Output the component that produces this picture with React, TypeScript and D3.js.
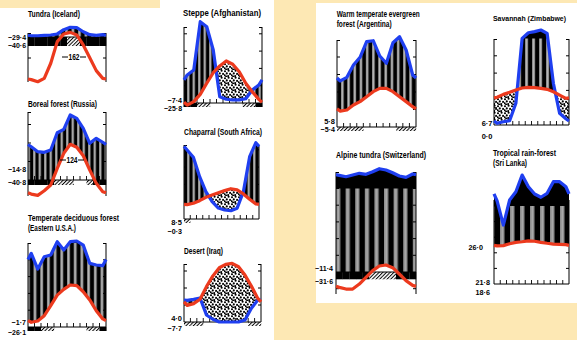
import React from "react";
import * as d3 from "d3";

// monthly mean temperature (°C) and precipitation (mm)
const tundraTemp = [-20.3, -21.3, -19.7, -12.5, -2.2, 1.4, 2.2, 1.0, -3.8, -9.9, -16.0, -19.7];
const tundraPrecip = [1.2, 1.2, 1.6, 1.9, 2.9, 7.0, 9.2, 8.9, 5.0, 2.2, 1.6, 2.2];
const tundraFrost = [2, 2, 2, 2, 2, 2, 1, 1, 2, 2, 2, 2];

const borealTemp = [-7.6, -8.3, -5.8, -2.7, 6.3, 14.4, 19.3, 17.7, 13.1, 5.4, -1.8, -6.3];
const borealPrecip = [36, 30.6, 29.9, 32.4, 51.1, 54.8, 70.3, 66.7, 55.9, 39.7, 45.1, 40.8];
const borealFrost = [2, 2, 2, 2, 1, 1, 1, 0, 0, 1, 2, 2];

const temperateTemp = [2.8, 3.6, 6.7, 12.7, 19.0, 22.4, 25.0, 24.6, 21.0, 16.1, 9.7, 4.8];
const temperatePrecip = [87.7, 69.0, 83.7, 85.7, 115.5, 91.7, 115.5, 123.8, 97.6, 75.8, 73.8, 73.0];
const temperateFrost = [2, 2, 1, 1, 0, 0, 0, 0, 0, 1, 1, 2];

const steppeTemp = [-1.2, 0.8, 5.0, 11.4, 17.5, 21.4, 24.3, 22.4, 18.1, 11.4, 6.5, 2.1];
const steppePrecip = [32.4, 38.2, 94.0, 88.2, 61.3, 7.3, 4.3, 3.5, 3.5, 5.0, 15.0, 20.8];
const steppeFrost = [2, 2, 1, 1, 0, 0, 0, 0, 0, 1, 1, 2];

const chaparralTemp = [8.3, 9.1, 10.6, 12.5, 13.9, 15.2, 16.4, 17.5, 16.8, 14.5, 11.4, 8.7];
const chaparralPrecip = [79.8, 71.3, 48.9, 31.6, 20.0, 12.7, 10.4, 9.6, 12.4, 31.6, 72.0, 88.2];
const chaparralFrost = [1, 0, 0, 0, 0, 0, 0, 0, 0, 0, 0, 0];

const desertTemp = [9.8, 10.8, 13.4, 20.8, 27.1, 31.9, 33.9, 34.5, 32.5, 27.6, 21.2, 13.9];
const desertPrecip = [25.5, 26.7, 28.2, 8.2, 3.2, 0, 0, 0, 0, 2.4, 16.1, 25.9];
const desertFrost = [1, 1, 1, 0, 0, 0, 0, 0, 0, 0, 1, 1];

const warmTemp = [9.1, 9.7, 12.6, 14.5, 17.3, 20.2, 22.1, 22.1, 20.2, 17.3, 14.5, 11.6];
const warmPrecip = [52.6, 56.8, 70.9, 79.7, 97.5, 98.6, 81.1, 72.8, 96.3, 132, 88.0, 59.4];
const warmFrost = [1, 1, 1, 1, 0, 0, 0, 0, 0, 1, 1, 1];

const savannahTemp = [16.0, 17.7, 18.9, 20.2, 21.4, 21.8, 21.6, 21.2, 20.6, 19.2, 17.3, 15.4];
const savannahPrecip = [2.0, 3.8, 5.0, 25.1, 102, 167, 179, 198, 160, 48.2, 13.5, 7.3];
const savannahFrost = [0, 0, 0, 0, 0, 0, 0, 0, 0, 0, 0, 0];

const alpineTemp = [-9.2, -10.2, -10.2, -7.2, -3.2, 0.8, 3.6, 4.2, 2.6, -1.2, -5.2, -8.0];
const alpinePrecip = [258, 241, 262, 282, 270, 301, 337, 322, 289, 250, 234, 274];
const alpineFrost = [2, 2, 2, 2, 2, 1, 1, 1, 1, 2, 2, 2];

const tropicalTemp = [24.4, 24.6, 25.8, 26.7, 27.1, 27.6, 27.4, 26.7, 26.1, 25.6, 25.4, 25.2];
const tropicalPrecip = [164, 75.6, 177, 283, 497, 347, 254, 212, 263, 412, 412, 347];
const tropicalFrost = [0, 0, 0, 0, 0, 0, 0, 0, 0, 0, 0, 0];

const BLUE = "#1f3ff0";
const RED = "#ec3a1e";
const FONT = "'Liberation Sans', Arial, sans-serif";

const diagrams = [
    { id: "tundra", temp: tundraTemp, precip: tundraPrecip, frost: tundraFrost,
      left: 28, right: 106, top: 33, bottom: 82, zero: 37, unit: 21, bandH: 9, stripe: 6.5, monthTicks: false,
      titleX: 28, title: [["Tundra (Iceland)", 17, 52]],
      labels: [["\u221229\u00b74", 26, 39.5], ["\u221240\u00b76", 26, 48]], note: ["162", 74, 60] },
    { id: "boreal", temp: borealTemp, precip: borealPrecip, frost: borealFrost,
      left: 28, right: 106, top: 112, bottom: 196, zero: 180, unit: 18.5, bandH: 5, stripe: 5.5, monthTicks: true,
      titleX: 28, title: [["Boreal forest (Russia)", 107, 69]],
      labels: [["\u221214\u00b78", 26, 172], ["\u221240\u00b78", 26, 184.5]], note: ["124", 72, 163] },
    { id: "temperate", temp: temperateTemp, precip: temperatePrecip, frost: temperateFrost,
      left: 28, right: 106, top: 243, bottom: 331, zero: 327, unit: 16.8, bandH: 4, stripe: 6.7, monthTicks: true,
      titleX: 28, title: [["Temperate deciduous forest", 221, 91], ["(Eastern U.S.A.)", 231, 48]],
      labels: [["\u22121\u00b77", 26, 325], ["\u221226\u00b71", 26, 334.5]] },
    { id: "steppe", temp: steppeTemp, precip: steppePrecip, frost: steppeFrost,
      left: 184, right: 262, top: 27, bottom: 107, zero: 103, unit: 17.3, bandH: 4, stripe: 5.5, monthTicks: true,
      titleX: 183, title: [["Steppe (Afghanistan)", 16, 78]],
      labels: [["\u22127\u00b74", 182, 102.5], ["\u221225\u00b78", 182, 111]] },
    { id: "chaparral", temp: chaparralTemp, precip: chaparralPrecip, frost: chaparralFrost,
      left: 184, right: 259, top: 145, bottom: 219, zero: 219, unit: 17.3, bandH: 4, stripe: 5.5, monthTicks: true,
      titleX: 184, title: [["Chaparral (South Africa)", 134.5, 78]],
      labels: [["8\u00b75", 182, 224.5], ["\u22120\u00b73", 182, 234]] },
    { id: "desert", temp: desertTemp, precip: desertPrecip, frost: desertFrost,
      left: 184, right: 261, top: 264, bottom: 322, zero: 322, unit: 17, bandH: 4, stripe: 6, monthTicks: true,
      titleX: 184, title: [["Desert (Iraq)", 253.5, 39]],
      labels: [["4\u00b70", 182, 320.5], ["\u22127\u00b77", 182, 331]] },
    { id: "warm", temp: warmTemp, precip: warmPrecip, frost: warmFrost,
      left: 337, right: 416, top: 40, bottom: 127, zero: 127, unit: 17.5, bandH: 4, stripe: 6.2, monthTicks: true,
      titleX: 336.7, title: [["Warm temperate evergreen", 17, 83], ["forest (Argentina)", 27, 55]],
      labels: [["5\u00b78", 335, 124], ["\u22125\u00b74", 335, 131.5]] },
    { id: "savannah", temp: savannahTemp, precip: savannahPrecip, frost: savannahFrost,
      left: 494, right: 569, top: 39, bottom: 125, zero: 125, unit: 17.3, bandH: 0, stripe: 7, monthTicks: true,
      titleX: 493, titleSize: 7.2, title: [["Savannah (Zimbabwe)", 21, 73]],
      labels: [["6\u00b77", 492.5, 126], ["0\u00b70", 492.5, 139]] },
    { id: "alpine", temp: alpineTemp, precip: alpinePrecip, frost: alpineFrost,
      left: 336, right: 416, top: 172, bottom: 294, zero: 272, unit: 16.7, bandH: 7.3, stripe: 9.6, monthTicks: false,
      titleX: 336, title: [["Alpine tundra (Switzerland)", 157.5, 90]],
      labels: [["\u221211\u00b74", 333, 271], ["\u221231\u00b76", 333, 283.5]] },
    { id: "tropical", temp: tropicalTemp, precip: tropicalPrecip, frost: tropicalFrost,
      left: 494, right: 569, top: 200, bottom: 284, zero: 284, unit: 15.6, bandH: 0, stripe: 10, monthTicks: true,
      titleX: 493, title: [["Tropical rain-forest", 156, 63], ["(Sri Lanka)", 166, 34]],
      labels: [["26\u00b70", 483, 249.5], ["21\u00b78", 490, 284.5], ["18\u00b76", 490, 294.5]] },
];

const dotSpots = [[1, 1.2], [4.6, 0.8], [2.8, 3.4], [6.1, 3.9], [0.7, 5.2], [4.2, 6.1], [2.2, 6.6]];

const Diagram = ({ d }) => {
    const { id, temp, precip, frost, left, right, top, bottom, zero, unit, bandH } = d;
    const x = d3.scaleLinear().domain([0, 12]).range([left, right]);
    const yT = d3.scaleLinear().domain([0, 10]).range([zero, zero - unit]);
    // Walter-Lieth: 10°C = 20 mm, above 100 mm the scale is cut to 1/10
    const yP = d3.scaleLinear().domain([0, 100, 1100]).range([zero, zero - 5 * unit, zero - 10 * unit]);
    const thr = yP(100);
    const sky = top - 60;

    const edgeT = (temp[0] + temp[11]) / 2;
    const edgeP = (precip[0] + precip[11]) / 2;
    const pts = [{ m: 0, t: edgeT, p: edgeP },
        ...temp.map((t, i) => ({ m: i + 0.5, t, p: precip[i] })),
        { m: 12, t: edgeT, p: edgeP }];

    const tLine = d3.line().x(p => x(p.m)).y(p => yT(p.t));
    const pLine = d3.line().x(p => x(p.m)).y(p => yP(p.p));
    const underP = d3.area().x(p => x(p.m)).y0(zero).y1(p => yP(p.p));
    const underT = d3.area().x(p => x(p.m)).y0(zero).y1(p => yT(p.t));
    const overT = d3.area().x(p => x(p.m)).y0(sky).y1(p => yT(p.t));
    const overP = d3.area().x(p => x(p.m)).y0(sky).y1(p => yP(p.p));

    const axisTicks = d3.range(-6, 12).filter(k => k !== 0)
        .map(k => yT(k * 10)).filter(y => y > top + 1 && y < bottom - 1);
    const mw = (right - left) / 12;

    return (
        <g>
            <defs>
                <pattern id={`stripes-${id}`} patternUnits="userSpaceOnUse" width={d.stripe} height={10}>
                    <rect width={d.stripe} height={10} fill="#000" />
                    <rect x={0} width={d.stripe * 0.45} height={10} fill="#8e8e8e" />
                    <rect x={d.stripe * 0.18} width={0.6} height={10} fill="#cfcfcf" />
                </pattern>
                <clipPath id={`overT-${id}`}><path d={overT(pts)} /></clipPath>
                <clipPath id={`overP-${id}`}><path d={overP(pts)} /></clipPath>
                <clipPath id={`overZero-${id}`}><rect x={left} y={sky} width={right - left} height={zero - sky} /></clipPath>
                <clipPath id={`overThr-${id}`}><rect x={left} y={sky} width={right - left} height={thr - sky} /></clipPath>
            </defs>

            {/* humid period */}
            <path d={underP(pts)} fill={`url(#stripes-${id})`} clipPath={`url(#overT-${id})`} />
            {/* above 100 mm */}
            <g clipPath={`url(#overThr-${id})`}>
                <path d={underP(pts)} fill="#000" />
            </g>
            {/* arid period */}
            <g clipPath={`url(#overZero-${id})`}>
                <path d={underT(pts)} fill="url(#dots)" clipPath={`url(#overP-${id})`} />
            </g>

            {/* frost bar */}
            {bandH > 0 && frost.map((f, i) => f === 0 ? null : (
                <rect key={i} x={x(i)} y={zero} width={mw + 0.2} height={bandH}
                    fill={f === 2 ? "#000" : "url(#hatch)"} />
            ))}

            {/* frame */}
            <line x1={left} x2={left} y1={top} y2={bottom} stroke="#000" strokeWidth={1} />
            <line x1={right} x2={right} y1={top} y2={bottom} stroke="#000" strokeWidth={1} />
            <line x1={left} x2={left + 3} y1={top + 0.5} y2={top + 0.5} stroke="#000" strokeWidth={1} />
            <line x1={right - 3} x2={right} y1={top + 0.5} y2={top + 0.5} stroke="#000" strokeWidth={1} />
            <line x1={left} x2={right} y1={zero} y2={zero} stroke="#000" strokeWidth={1} />
            {axisTicks.map((y, i) => (
                <g key={i}>
                    <line x1={left} x2={left + 3} y1={y} y2={y} stroke="#000" strokeWidth={1} />
                    <line x1={right - 3} x2={right} y1={y} y2={y} stroke="#000" strokeWidth={1} />
                </g>
            ))}
            {d.monthTicks && d3.range(1, 12).map(i => (
                <line key={i} x1={x(i)} x2={x(i)} y1={zero - 4} y2={zero} stroke="#000" strokeWidth={0.9} />
            ))}

            <path d={pLine(pts)} fill="none" stroke={BLUE} strokeWidth={3.2} strokeLinejoin="round" />
            <path d={tLine(pts)} fill="none" stroke={RED} strokeWidth={3.2} strokeLinejoin="round" />

            {d.title.map(([txt, y, w], i) => (
                <text key={i} x={d.titleX} y={y} textLength={w} lengthAdjust="spacingAndGlyphs"
                    fontSize={d.titleSize || 8.5} fontWeight={700} fontFamily={FONT} fill="#000">{txt}</text>
            ))}
            {d.labels.map(([txt, lx, ly], i) => (
                <text key={i} x={lx} y={ly} textAnchor="end" textLength={txt.length * 3.6}
                    lengthAdjust="spacingAndGlyphs" fontSize={7.4} fontWeight={700} fontFamily={FONT}
                    fill="#000">{txt}</text>
            ))}
            {d.note && (
                <g>
                    <line x1={d.note[1] - 12} x2={d.note[1] - 6} y1={d.note[2] - 3} y2={d.note[2] - 3} stroke="#000" strokeWidth={1} />
                    <line x1={d.note[1] + 6} x2={d.note[1] + 12} y1={d.note[2] - 3} y2={d.note[2] - 3} stroke="#000" strokeWidth={1} />
                    <text x={d.note[1]} y={d.note[2]} textAnchor="middle" textLength={11}
                        lengthAdjust="spacingAndGlyphs" fontSize={8.5} fontWeight={700}
                        fontFamily={FONT} fill="#000">{d.note[0]}</text>
                </g>
            )}
        </g>
    );
};

const App = () => {
    return (
        <svg width={577} height={340} style={{ position: "absolute", left: 0, top: 0, display: "block" }}>
            <defs>
                <pattern id="dots" patternUnits="userSpaceOnUse" width={7} height={7}>
                    <rect width={7} height={7} fill="#fff" />
                    {dotSpots.map(([cx, cy], i) => <circle key={i} cx={cx} cy={cy} r={1.05} fill="#000" />)}
                </pattern>
                <pattern id="hatch" patternUnits="userSpaceOnUse" width={2.6} height={4} patternTransform="rotate(45)">
                    <rect width={2.6} height={4} fill="#fff" />
                    <rect width={1} height={4} fill="#000" />
                </pattern>
            </defs>
            <rect width={577} height={340} fill="#fde8b4" />
            <rect x={0} y={8} width={274} height={332} fill="#fff" />
            <rect x={160} y={0} width={114} height={8} fill="#fff" />
            <rect x={316} y={3} width={261} height={300} fill="#fff" />
            {diagrams.map(d => <Diagram key={d.id} d={d} />)}
        </svg>
    );
};

export default App;
